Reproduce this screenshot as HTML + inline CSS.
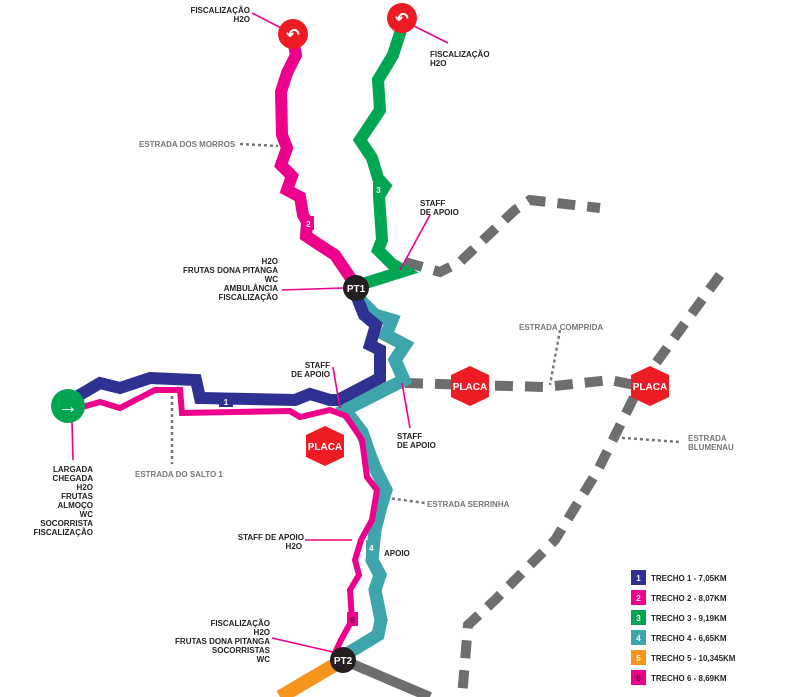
<!DOCTYPE html>
<html><head><meta charset="utf-8"><style>
html,body{margin:0;padding:0;background:#fff;}
svg{display:block;}
text{font-family:"Liberation Sans",sans-serif;font-weight:bold;}
.k{font-size:8px;fill:#231f20;}
.g{font-size:8px;fill:#777;}
</style></head><body>
<svg width="791" height="697" viewBox="0 0 791 697" xmlns="http://www.w3.org/2000/svg">
<!-- gray dashed roads -->
<g fill="none" stroke="#6d6e70" stroke-width="10" stroke-dasharray="18,12">
<path d="M405,262 L440,272 L460,262 L515,210 L530,200 L600,208"/>
<path d="M405,383 L545,387 L610,380 L645,387"/>
<path d="M720,275 L640,385 L598,470 L555,540 L495,600 L468,625 L462,697"/>
</g>
<!-- dotted leaders -->
<g fill="none" stroke="#777" stroke-width="2.5" stroke-dasharray="3,3">
<path d="M240,144 L278,146"/>
<path d="M172,390 L172,464"/>
<path d="M560,330 L550,385"/>
<path d="M610,437 L680,442"/>
<path d="M380,497 L425,503"/>
</g>
<!-- orange & gray from PT2 -->
<path d="M343,660 L280,697" stroke="#f7941d" stroke-width="14" fill="none"/>
<path d="M343,660 L430,697" stroke="#6d6e70" stroke-width="10" fill="none"/>
<!-- teal 4 -->
<path d="M358,298 L375,315 L392,320 L386,335 L405,345 L395,360 L404,380 L345,410 L362,432 L370,455 L376,470 L386,490 L380,510 L375,530 L372,560 L380,575 L375,590 L381,620 L378,635 L345,655" stroke="#3ea5ad" stroke-width="13" fill="none" stroke-linejoin="miter"/>
<!-- blue 1 -->
<path d="M356,295 L364,315 L376,325 L370,345 L380,350 L380,378 L338,400 L330,400 L310,394 L295,400 L200,398 L196,380 L150,378 L120,388 L100,383 L78,396" stroke="#2e3192" stroke-width="12" fill="none"/>
<!-- magenta 1/6 -->
<path d="M72,410 L100,402 L120,408 L155,390 L180,390 L182,413 L290,411 L300,417 L330,410 L346,416 L362,440 L367,477 L377,490 L372,520 L361,540 L355,560 L359,575 L350,590 L352,620 L341,640 L334,655" stroke="#ec008c" stroke-width="6" fill="none"/>
<!-- magenta 2 -->
<path d="M293,40 L296,55 L287,73 L281,92 L282,135 L287,148 L281,165 L292,176 L287,190 L300,197 L303,215 L307,222 L306,236 L318,244 L335,255 L352,280" stroke="#ec008c" stroke-width="12" fill="none"/>
<!-- green 3 -->
<path d="M401,30 L393,55 L378,80 L380,110 L360,140 L372,158 L378,178 L385,186 L379,196 L382,240 L378,250 L392,264 L404,271 L356,286" stroke="#00a651" stroke-width="12" fill="none"/>
<!-- pink leader lines -->
<g stroke="#ec008c" stroke-width="1.6" fill="none">
<path d="M252,13 L285,30"/><path d="M412,25 L448,43"/>
<path d="M400,270 L430,215"/><path d="M282,290 L343,288"/>
<path d="M333,367 L340,408"/><path d="M402,383 L410,428"/>
<path d="M305,540 L352,540"/><path d="M272,638 L333,652"/>
<path d="M72,422 L73,460"/>
</g>
<!-- route labels -->
<rect x="219" y="395" width="14" height="12" fill="#2e3192"/><text x="226" y="405" font-size="8" fill="#fff" text-anchor="middle">1</text>
<rect x="303" y="216" width="11" height="14" fill="#ec008c"/><text x="308.5" y="227" font-size="8" fill="#fff" text-anchor="middle">2</text>
<rect x="373" y="182" width="11" height="14" fill="#00a651"/><text x="378.5" y="193" font-size="8" fill="#fff" text-anchor="middle">3</text>
<rect x="366" y="540" width="11" height="14" fill="#3ea5ad"/><text x="371.5" y="551" font-size="8" fill="#fff" text-anchor="middle">4</text>
<rect x="347" y="612" width="11" height="14" fill="#ec008c"/><text x="352.5" y="623" font-size="8" fill="#231f20" text-anchor="middle">6</text>
<!-- turn circles -->
<circle cx="293" cy="34" r="15" fill="#ed1c24"/><text x="293" y="40" font-size="16" fill="#fff" text-anchor="middle">↶</text>
<circle cx="402" cy="18" r="15" fill="#ed1c24"/><text x="402" y="24" font-size="16" fill="#fff" text-anchor="middle">↶</text>
<!-- start -->
<circle cx="68" cy="406" r="17" fill="#00a651"/><text x="68" y="413" font-size="20" fill="#fff" text-anchor="middle">→</text>
<!-- PT -->
<circle cx="356" cy="288" r="13" fill="#231f20"/><text x="356" y="292" font-size="10" fill="#fff" text-anchor="middle">PT1</text>
<circle cx="343" cy="660" r="13" fill="#231f20"/><text x="343" y="664" font-size="10" fill="#fff" text-anchor="middle">PT2</text>
<!-- placas -->
<g fill="#ed1c24">
<polygon points="459,367 481,367 490,386 481,405 459,405 450,386" transform="rotate(90 470 386) translate(0 0)"/>
<polygon points="639,367 661,367 670,386 661,405 639,405 630,386" transform="rotate(90 650 386)"/>
<polygon points="314,427 336,427 345,446 336,465 314,465 305,446" transform="rotate(90 325 446)"/>
</g>
<g font-size="10" fill="#fff" text-anchor="middle">
<text x="470" y="390">PLACA</text><text x="650" y="390">PLACA</text><text x="325" y="450">PLACA</text>
</g>
<!-- text labels -->
<g class="k" text-anchor="end">
<text x="250" y="13">FISCALIZAÇÃO</text><text x="250" y="22">H2O</text>
<text x="278" y="264">H2O</text><text x="278" y="273">FRUTAS DONA PITANGA</text><text x="278" y="282">WC</text><text x="278" y="291">AMBULÂNCIA</text><text x="278" y="300">FISCALIZAÇÃO</text>
<text x="330" y="368">STAFF</text><text x="330" y="377">DE APOIO</text>
<text x="93" y="472">LARGADA</text><text x="93" y="481">CHEGADA</text><text x="93" y="490">H2O</text><text x="93" y="499">FRUTAS</text><text x="93" y="508">ALMOÇO</text><text x="93" y="517">WC</text><text x="93" y="526">SOCORRISTA</text><text x="93" y="535">FISCALIZAÇÃO</text>
<text x="304" y="540">STAFF DE APOIO</text><text x="302" y="549">H2O</text>
<text x="270" y="626">FISCALIZAÇÃO</text><text x="270" y="635">H2O</text><text x="270" y="644">FRUTAS DONA PITANGA</text><text x="270" y="653">SOCORRISTAS</text><text x="270" y="662">WC</text>
</g>
<g class="k">
<text x="430" y="57">FISCALIZAÇÃO</text><text x="430" y="66">H2O</text>
<text x="420" y="206">STAFF</text><text x="420" y="215">DE APOIO</text>
<text x="397" y="439">STAFF</text><text x="397" y="448">DE APOIO</text>
<text x="384" y="556">APOIO</text>
</g>
<g class="g">
<text x="139" y="147">ESTRADA DOS MORROS</text>
<text x="135" y="477">ESTRADA DO SALTO 1</text>
<text x="519" y="330">ESTRADA COMPRIDA</text>
<text x="688" y="441">ESTRADA</text><text x="688" y="450">BLUMENAU</text>
<text x="427" y="507">ESTRADA SERRINHA</text>
</g>
<!-- legend -->
<g font-size="8">
<rect x="631" y="570" width="15" height="15" fill="#2e3192"/><text x="638.5" y="581" fill="#fff" text-anchor="middle">1</text><text x="651" y="581" fill="#231f20">TRECHO 1 - 7,05KM</text>
<rect x="631" y="590" width="15" height="15" fill="#ec008c"/><text x="638.5" y="601" fill="#fff" text-anchor="middle">2</text><text x="651" y="601" fill="#231f20">TRECHO 2 - 8,07KM</text>
<rect x="631" y="610" width="15" height="15" fill="#00a651"/><text x="638.5" y="621" fill="#fff" text-anchor="middle">3</text><text x="651" y="621" fill="#231f20">TRECHO 3 - 9,19KM</text>
<rect x="631" y="630" width="15" height="15" fill="#3ea5ad"/><text x="638.5" y="641" fill="#fff" text-anchor="middle">4</text><text x="651" y="641" fill="#231f20">TRECHO 4 - 6,65KM</text>
<rect x="631" y="650" width="15" height="15" fill="#f7941d"/><text x="638.5" y="661" fill="#fff" text-anchor="middle">5</text><text x="651" y="661" fill="#231f20">TRECHO 5 - 10,345KM</text>
<rect x="631" y="670" width="15" height="15" fill="#ec008c"/><text x="638.5" y="681" fill="#231f20" text-anchor="middle">6</text><text x="651" y="681" fill="#231f20">TRECHO 6 - 8,69KM</text>
</g>
</svg>
</body></html>
